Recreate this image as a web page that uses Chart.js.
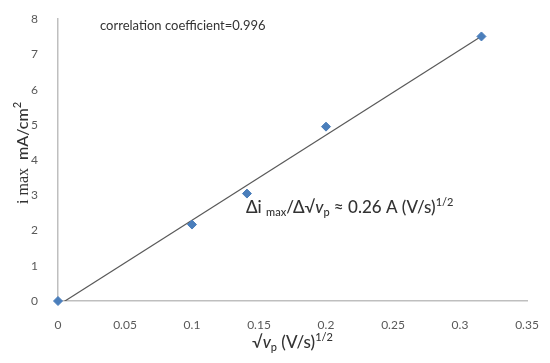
<!DOCTYPE html>
<html>
<head>
<meta charset="utf-8">
<script src="https://cdn.jsdelivr.net/npm/chart.js@4"></script>
<style>
html,body{margin:0;padding:0;background:#fff;}
#wrap{width:550px;height:363px;position:relative;}
</style>
</head>
<body>
<div id="wrap"><canvas id="c" width="550" height="363"></canvas></div>
<script>
// ---- data ----
const xValues = [0, 0.1, 0.141, 0.2, 0.316];
const yValues = [0, 2.17, 3.05, 4.95, 7.51];
const xTickLabels = ['0', '0.05', '0.1', '0.15', '0.2', '0.25', '0.3', '0.35'];
const yTickLabels = ['0', '1', '2', '3', '4', '5', '6', '7', '8'];
const correlationText = 'correlation coefficient=0.996';
const slopeValue = '0.26';

// linear regression (trendline) computed from the data
const n = xValues.length;
const mx = xValues.reduce((a, b) => a + b, 0) / n;
const my = yValues.reduce((a, b) => a + b, 0) / n;
let sxx = 0, sxy = 0;
for (let i = 0; i < n; i++) { sxx += (xValues[i] - mx) ** 2; sxy += (xValues[i] - mx) * (yValues[i] - my); }
const slope = sxy / sxx, icpt = my - slope * mx;
const xMin = Math.min(...xValues), xMax = Math.max(...xValues);
const trend = [{x: xMin, y: slope * xMin + icpt}, {x: xMax, y: slope * xMax + icpt}];

const SANS = 'Lato, "Open Sans", sans-serif';
const SERIF = '"Liberation Serif", "DejaVu Serif", serif';
const TXT = '#333333';

function drawRuns(ctx, x, y, runs) {
  let cx = x;
  for (const r of runs) {
    ctx.font = r[1];
    ctx.fillText(r[0], cx, y + (r[2] || 0));
    cx += ctx.measureText(r[0]).width;
  }
  return cx - x;
}
function runsWidth(ctx, runs) {
  let w = 0;
  for (const r of runs) { ctx.font = r[1]; w += ctx.measureText(r[0]).width; }
  return w;
}

const annot = {
  id: 'annot',
  afterDraw(chart) {
    const ctx = chart.ctx;
    const xs = chart.scales.x;
    ctx.save();
    ctx.fillStyle = TXT;
    ctx.textBaseline = 'alphabetic';
    ctx.textAlign = 'left';
    // correlation text
    ctx.font = '13px ' + SANS;
    ctx.fillText(correlationText, 100, 30);

    // slope equation
    const f = '500 17px ' + SANS, fs = '500 11px ' + SANS, fi = 'italic 500 17px ' + SANS;
    drawRuns(ctx, 246, 213, [
      ['Δi ', f], ['max', fs, 3], ['/Δ√', f], ['v', fi], ['p', fs, 3],
      [' ≈ ' + slopeValue + ' A (V/s)', f], ['1/2', fs, -7]
    ]);

    // x title
    const g = '500 17px ' + SANS, gs = '500 11px ' + SANS, gi = 'italic 500 17px ' + SANS;
    const xr = [['√', g], ['v', gi], ['p', gs, 3], [' (V/s)', g], ['1/2', gs, -7]];
    const xw = runsWidth(ctx, xr);
    drawRuns(ctx, (xs.left + xs.right) / 2 - xw / 2, 348, xr);

    // y title (rotated)
    const yr = [['i max', '16px ' + SERIF], ['  mA/cm', '500 16px ' + SANS], ['2', '500 11px ' + SANS, -7]];
    const yw = runsWidth(ctx, yr);
    ctx.translate(28, 153);
    ctx.rotate(-Math.PI / 2);
    drawRuns(ctx, -yw / 2, 0, yr);
    ctx.restore();
  }
};

new Chart(document.getElementById('c'), {
  type: 'scatter',
  data: {
    datasets: [
      {
        type: 'line',
        data: trend,
        borderColor: '#595959',
        borderWidth: 1.2,
        pointRadius: 0,
        fill: false,
        order: 2
      },
      {
        data: xValues.map((x, i) => ({x, y: yValues[i]})),
        pointStyle: 'rectRot',
        radius: 4.5,
        backgroundColor: '#4a7ebb',
        borderColor: '#4a7ebb',
        borderWidth: 1,
        order: 1,
        clip: false
      }
    ]
  },
  options: {
    responsive: false,
    animation: false,
    layout: {padding: {left: 0, right: 23, top: 17, bottom: 0}},
    plugins: {legend: {display: false}, tooltip: {enabled: false}},
    scales: {
      x: {
        type: 'linear', min: 0, max: 0.35,
        grid: {display: false},
        border: {display: true, color: '#bfbfbf', width: 1.5},
        afterBuildTicks(s) { s.ticks = xTickLabels.map((t, i) => ({value: i * 0.05})); },
        ticks: {
          padding: 9, color: '#595959', font: {family: SANS, size: 12},
          callback: (v, i) => xTickLabels[i], maxRotation: 0, autoSkip: false
        },
        afterFit(s) { s.height = 62; }
      },
      y: {
        type: 'linear', min: 0, max: 8,
        grid: {display: false},
        border: {display: true, color: '#bfbfbf', width: 1.5},
        afterBuildTicks(s) { s.ticks = yTickLabels.map((t, i) => ({value: i})); },
        ticks: {
          padding: 12, color: '#595959', font: {family: SANS, size: 12},
          callback: (v, i) => yTickLabels[i]
        },
        afterFit(s) { s.width = 58; }
      }
    }
  },
  plugins: [annot]
});
</script>
</body>
</html>
